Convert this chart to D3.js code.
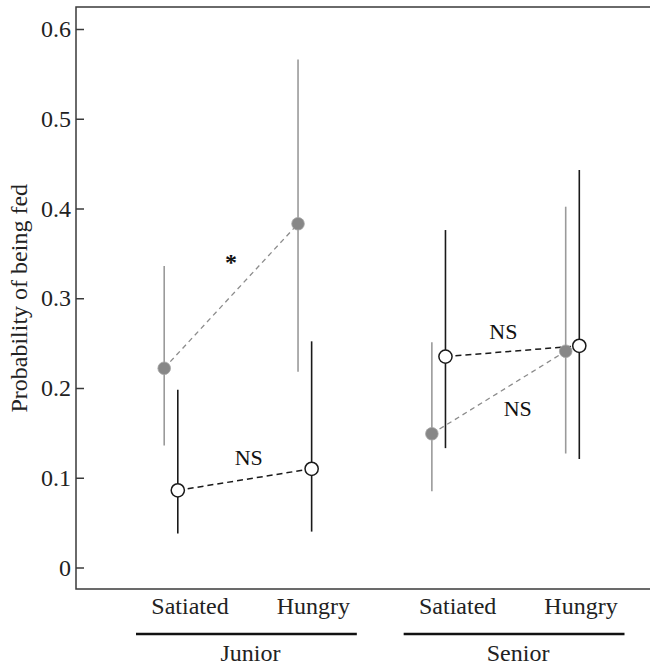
<!DOCTYPE html>
<html lang="en">
<head>
<meta charset="UTF-8">
<title>Probability of being fed</title>
<script src="https://cdn.jsdelivr.net/npm/d3@7"></script>
<style>
  body { margin: 0; background: #fff; }
  svg { display: block; font-family: "Liberation Serif", serif; }
</style>
</head>
<body>
<div id="chart"></div>
<script>
// data
const groups = ["Junior", "Senior"];
const conditions = ["Satiated", "Hungry"];
const categories = ["Junior Satiated", "Junior Hungry", "Senior Satiated", "Senior Hungry"];

// grey filled points
const greyMean = [0.222, 0.383, 0.149, 0.241];
const greyLow  = [0.136, 0.218, 0.085, 0.127];
const greyHigh = [0.336, 0.566, 0.251, 0.402];

// open points
const openMean = [0.086, 0.110, 0.235, 0.247];
const openLow  = [0.038, 0.040, 0.133, 0.121];
const openHigh = [0.198, 0.252, 0.376, 0.443];

const yTicks = [0, 0.1, 0.2, 0.3, 0.4, 0.5, 0.6];

const width = 650, height = 665;
const frame = {left: 76, top: 7, right: 652, bottom: 589};

const svg = d3.select("#chart").append("svg")
    .attr("width", width)
    .attr("height", height);

const x = d3.scalePoint().domain(categories).range([171, 572.5]);
const y = d3.scaleLinear().domain([0, 0.6]).range([567.5, 29]);
const offset = 6.8; // grey left of category, open right of it

// frame
svg.append("rect")
    .attr("x", frame.left).attr("y", frame.top)
    .attr("width", frame.right - frame.left)
    .attr("height", frame.bottom - frame.top)
    .attr("fill", "none")
    .attr("stroke", "#3a3a3a")
    .attr("stroke-width", 1.5);

// y axis, ticks pointing inward
const yAxis = d3.axisLeft(y)
    .tickValues(yTicks)
    .tickSizeInner(-8)
    .tickSizeOuter(0)
    .tickPadding(5)
    .tickFormat(d => d === 0 ? "0" : d3.format(".1f")(d));

svg.append("g")
    .attr("transform", `translate(${frame.left},0)`)
    .call(yAxis)
    .attr("font-family", null)
    .attr("font-size", 24)
    .call(g => g.select(".domain").remove())
    .call(g => g.selectAll("line").attr("stroke", "#3a3a3a").attr("stroke-width", 1.5))
    .call(g => g.selectAll("text").attr("fill", "#222"));

svg.append("text")
    .attr("transform", `translate(27,${(y(0) + y(0.6)) / 2}) rotate(-90)`)
    .attr("text-anchor", "middle")
    .attr("font-size", 24)
    .attr("fill", "#222")
    .text("Probability of being fed");

// build rows for each series
const grey = categories.map((c, i) => ({c, m: greyMean[i], lo: greyLow[i], hi: greyHigh[i], px: x(c) - offset}));
const open = categories.map((c, i) => ({c, m: openMean[i], lo: openLow[i], hi: openHigh[i], px: x(c) + offset}));

// error bars
svg.append("g").selectAll("line")
    .data(grey).join("line")
    .attr("x1", d => d.px).attr("x2", d => d.px)
    .attr("y1", d => y(d.lo)).attr("y2", d => y(d.hi))
    .attr("stroke", "#9a9a9a")
    .attr("stroke-width", 1.6);

svg.append("g").selectAll("line")
    .data(open).join("line")
    .attr("x1", d => d.px).attr("x2", d => d.px)
    .attr("y1", d => y(d.lo)).attr("y2", d => y(d.hi))
    .attr("stroke", "#1a1a1a")
    .attr("stroke-width", 1.6);

// dashed connectors within each age group
const pairs = (rows) => groups.map((g, k) => [rows[2 * k], rows[2 * k + 1]]);

svg.append("g").selectAll("line")
    .data(pairs(grey)).join("line")
    .attr("x1", d => d[0].px).attr("y1", d => y(d[0].m))
    .attr("x2", d => d[1].px).attr("y2", d => y(d[1].m))
    .attr("stroke", "#8c8c8c")
    .attr("stroke-width", 1.3)
    .attr("stroke-dasharray", "5,4");

svg.append("g").selectAll("line")
    .data(pairs(open)).join("line")
    .attr("x1", d => d[0].px).attr("y1", d => y(d[0].m))
    .attr("x2", d => d[1].px).attr("y2", d => y(d[1].m))
    .attr("stroke", "#1a1a1a")
    .attr("stroke-width", 1.5)
    .attr("stroke-dasharray", "6,4");

// points
svg.append("g").selectAll("circle")
    .data(grey).join("circle")
    .attr("cx", d => d.px).attr("cy", d => y(d.m))
    .attr("r", 6.3)
    .attr("fill", "#878787")
    .attr("stroke", "#a5a5a5")
    .attr("stroke-width", 0.8);

svg.append("g").selectAll("circle")
    .data(open).join("circle")
    .attr("cx", d => d.px).attr("cy", d => y(d.m))
    .attr("r", 6.6)
    .attr("fill", "#fff")
    .attr("stroke", "#1a1a1a")
    .attr("stroke-width", 1.5);

// significance labels, placed near the middle of each connector
const mid = (a, b) => [(a.px + b.px) / 2, (y(a.m) + y(b.m)) / 2];
const notes = [
  {t: "*",  p: mid(grey[0], grey[1]), dx: 0,  dy: -40, size: 24},
  {t: "NS", p: mid(open[0], open[1]), dx: 4,  dy: -22, size: 22},
  {t: "NS", p: mid(open[2], open[3]), dx: -9, dy: -20, size: 22},
  {t: "NS", p: mid(grey[2], grey[3]), dx: 19, dy: 16,  size: 22}
];
svg.append("g").selectAll("text")
    .data(notes).join("text")
    .attr("x", d => d.p[0] + d.dx)
    .attr("y", d => d.p[1] + d.dy)
    .attr("dy", d => d.t === "*" ? "0.6em" : "0.35em")
    .attr("text-anchor", "middle")
    .attr("font-size", d => d.size)
    .attr("font-weight", d => d.t === "*" ? "bold" : null)
    .attr("fill", "#111")
    .text(d => d.t);

// category labels under the frame
const condShift = {Satiated: 19, Hungry: 8.5};
svg.append("g").selectAll("text")
    .data(categories).join("text")
    .attr("x", (c, i) => x(c) + condShift[conditions[i % 2]])
    .attr("y", 614)
    .attr("text-anchor", "middle")
    .attr("font-size", 24)
    .attr("fill", "#222")
    .text((c, i) => conditions[i % 2]);

// group rules and names
const groupSpan = groups.map((g, k) => ({
  g,
  x0: x(categories[2 * k]) - 35,
  x1: x(categories[2 * k + 1]) + 52
}));

svg.append("g").selectAll("line")
    .data(groupSpan).join("line")
    .attr("x1", d => d.x0).attr("x2", d => d.x1)
    .attr("y1", 634).attr("y2", 634)
    .attr("stroke", "#111")
    .attr("stroke-width", 2.5);

svg.append("g").selectAll("text")
    .data(groupSpan).join("text")
    .attr("x", d => (d.x0 + d.x1) / 2 + 4)
    .attr("y", 661)
    .attr("text-anchor", "middle")
    .attr("font-size", 24)
    .attr("fill", "#222")
    .text(d => d.g);
</script>
</body>
</html>
